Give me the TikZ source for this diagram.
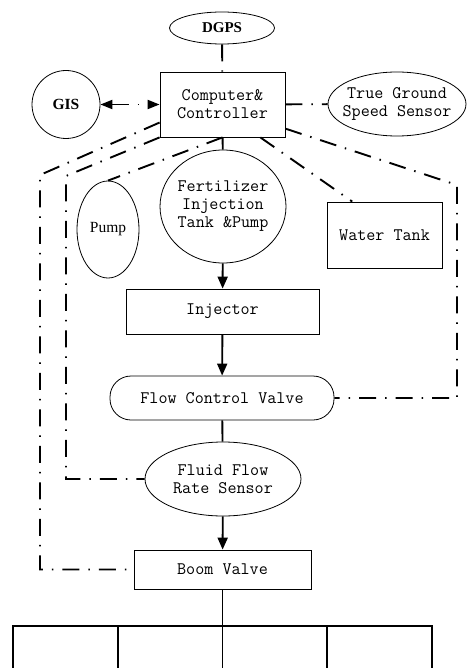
\documentclass[tikz,border=0pt]{standalone}
\usepackage{fontspec}
\setmainfont{Liberation Serif}
\usetikzlibrary{arrows.meta,shapes.geometric}

\begin{document}
\begin{tikzpicture}[x=1pt,y=-1pt,
  nodes={font=\ttfamily\fontsize{17.6}{18}\selectfont, align=center, inner sep=0pt},
  box/.style={draw,rectangle,line width=0.8pt},
  oval/.style={draw,ellipse,line width=0.8pt},
  sig/.style={line width=1.9pt,dash pattern=on 17pt off 9pt on 1.5pt off 9pt},
  wire/.style={line width=1.9pt},
  flow/.style={wire,-{Triangle[length=12pt,width=10pt]}},
  >={Triangle[length=12pt,width=9pt]}]

  \useasboundingbox (0,0) rectangle (467,668);

  % control part
  \node (dgps) [oval,minimum width=105pt,minimum height=32pt] at (222,28)
    {\rmfamily\bfseries\fontsize{15}{16}\selectfont DGPS};
  \node (ctrl) [box,minimum width=125pt,minimum height=65pt] at (222.5,104.5)
    {Computer\&\\Controller};
  \node (gis) [draw,circle,line width=0.8pt,minimum size=68pt] at (66,104.5)
    {\rmfamily\bfseries\fontsize{15.5}{17}\selectfont GIS};
  \node (tgss) [oval,minimum width=138pt,minimum height=64pt] at (397,104)
    [label={[align=center]center:True Ground\\Speed Sensor}] {};

  % liquid part
  \node (pump) [oval,minimum width=62pt,minimum height=97pt] at (108,229.5)
    {\rmfamily\fontsize{15.5}{17}\selectfont Pump};
  \node (fert) [oval,minimum width=126pt,minimum height=113pt] at (223,206.5)
    [label={[align=center]center:Fertilizer\\Injection\\Tank \&Pump}] {};
  \node (wt) [box,minimum width=115pt,minimum height=66pt] at (384.5,235) {Water Tank};
  \node (inj) [box,minimum width=193pt,minimum height=45pt] at (222.5,311.5) {Injector};
  \node (fcv) [draw,line width=0.8pt,rounded corners=21pt,minimum width=224pt,minimum height=44pt]
    at (222,398) {Flow Control Valve};
  \node (ffrs) [oval,minimum width=156pt,minimum height=74pt] at (223,479)
    {Fluid Flow\\Rate Sensor};
  \node (boom) [box,minimum width=177pt,minimum height=39pt] at (222.5,569.5) {Boom Valve};

  \coordinate (l1) at (40,175);
  \coordinate (l2) at (66,176);
  \coordinate (r1) at (457,185);
  \coordinate (hub) at (222.5,626);

  % signal lines
  \draw[sig] (dgps) -- (ctrl);
  \draw[sig,<->] (gis) -- (ctrl);
  \draw[sig] (ctrl) -- (tgss);
  \draw[sig] (ctrl.196) -- (l1) |- (boom.west);
  \draw[sig] (ctrl.south west) -- (l2) |- (ffrs.west);
  \draw[sig] (ctrl.south) -- (pump.north);
  \draw[sig] (ctrl.-41) -- (wt.134);
  \draw[sig] (ctrl.-21) -- (r1) |- (fcv.east);

  % liquid flow
  \draw[wire] (ctrl) -- (fert);
  \draw[flow] (fert) -- (inj);
  \draw[flow] (inj) -- (fcv);
  \draw[wire] (fcv) -- (ffrs);
  \draw[flow] (ffrs) -- (boom);
  \draw[wire] (boom) -- (hub);

  % boom sections
  \draw[wire] (13,668) -- (13,626) -- (432,626) -- (432,668);
  \foreach \x in {118,222.5,327}
    \draw[wire] (\x,626) -- (\x,668);
\end{tikzpicture}
\end{document}
